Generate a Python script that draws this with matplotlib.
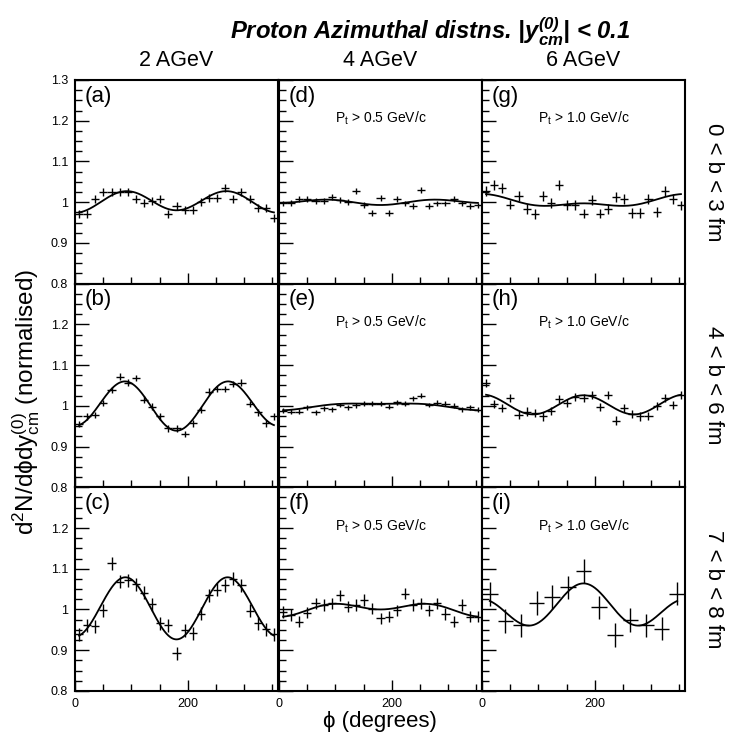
"""Proton azimuthal distributions at 2, 4 and 6 AGeV in three impact-parameter bins."""

import numpy as np
import matplotlib
matplotlib.use("Agg")
import matplotlib.pyplot as plt

plt.rcParams["font.family"] = ["Liberation Sans", "DejaVu Sans"]
plt.rcParams["mathtext.fontset"] = "custom"
plt.rcParams["mathtext.rm"] = "Liberation Sans"
plt.rcParams["mathtext.it"] = "Liberation Sans:italic"
plt.rcParams["mathtext.bf"] = "Liberation Sans:bold:italic"

energies = ["2 AGeV", "4 AGeV", "6 AGeV"]
centralities = ["0 < b < 3 fm", "4 < b < 6 fm", "7 < b < 8 fm"]
pt_cuts = ["", "P$_{\\mathrm{t}}$ > 0.5 GeV/c", "P$_{\\mathrm{t}}$ > 1.0 GeV/c"]

# measured points (normalised dN/dphi), 25 bins unless noted
vals_a = [0.971, 0.971, 1.007, 1.025, 1.025, 1.024, 1.025, 1.007, 0.998, 1.002,
          1.007, 0.970, 0.990, 0.980, 0.980, 1.000, 1.010, 1.010, 1.035, 1.007,
          1.025, 1.008, 0.986, 0.986, 0.962]
vals_b = [0.956, 0.974, 0.978, 1.007, 1.039, 1.072, 1.057, 1.068, 1.015, 0.998,
          0.974, 0.945, 0.945, 0.931, 0.957, 0.990, 1.035, 1.041, 1.041, 1.054,
          1.057, 1.005, 0.984, 0.957, 0.974]
vals_c = [0.939, 0.961, 0.959, 0.998, 1.113, 1.068, 1.072, 1.062, 1.041, 1.013,
          0.966, 0.961, 0.893, 0.949, 0.941, 0.989, 1.035, 1.049, 1.060, 1.076,
          1.060, 0.997, 0.966, 0.951, 0.939]
vals_d = [0.997, 0.998, 1.007, 1.008, 1.002, 1.002, 1.013, 1.005, 1.000, 1.027,
          0.993, 0.974, 1.011, 0.974, 1.008, 0.997, 0.990, 1.030, 0.990, 0.997,
          0.997, 1.008, 0.997, 0.990, 0.992]
vals_e = [0.988, 0.986, 0.986, 0.996, 0.984, 0.994, 0.992, 1.002, 0.997, 1.001,
          1.005, 1.005, 1.005, 0.998, 1.009, 1.005, 1.019, 1.025, 1.002, 1.008,
          1.005, 1.000, 0.992, 0.997, 0.990]
vals_f = [0.994, 0.986, 0.970, 0.992, 1.015, 1.011, 1.015, 1.035, 1.007, 1.011,
          1.023, 1.002, 0.978, 0.982, 0.998, 1.039, 1.011, 1.015, 0.998, 1.015,
          0.989, 0.970, 1.011, 0.982, 0.982]
vals_g = [1.027, 1.043, 1.035, 0.994, 1.015, 0.984, 0.970, 1.015, 0.998, 1.042,
          0.993, 0.993, 0.972, 1.005, 0.972, 0.984, 1.013, 1.008, 0.974, 0.974,
          1.008, 0.975, 1.027, 1.008, 0.992]
vals_h = [1.056, 1.005, 0.994, 1.019, 0.978, 0.986, 0.982, 0.974, 0.988, 1.016,
          1.008, 1.021, 1.019, 1.027, 0.998, 1.027, 0.964, 0.994, 0.980, 0.974,
          0.975, 1.000, 1.019, 1.002, 1.027]
# panel (i) has 13 bins
vals_i = [1.038, 0.972, 0.961, 1.016, 1.030, 1.054, 1.095, 1.005, 0.937, 0.974,
          0.961, 0.953, 1.039]

# statistical error (half height) per panel
errs = {"a": 0.010, "b": 0.008, "c": 0.016, "d": 0.007, "e": 0.006,
        "f": 0.014, "g": 0.012, "h": 0.010, "i": 0.029}

# Fourier fit a0 + a1 cos(phi) + a2 cos(2 phi)
fits = {"a": (1.002, -0.003, -0.025), "b": (1.0025, 0.006, -0.0575),
        "c": (1.0045, 0.0035, -0.0745), "d": (1.0008, 0.0025, -0.0053),
        "e": (1.000, -0.008, -0.003), "f": (1.002, -0.009, -0.011),
        "g": (1.0008, 0.0115, 0.0078), "h": (1.003, 0.001, 0.024),
        "i": (1.003, -0.0195, 0.0415)}

panel_vals = {"a": vals_a, "b": vals_b, "c": vals_c, "d": vals_d, "e": vals_e,
              "f": vals_f, "g": vals_g, "h": vals_h, "i": vals_i}
grid = [["a", "d", "g"], ["b", "e", "h"], ["c", "f", "i"]]

W, H = 739, 736
fig = plt.figure(figsize=(W / 100, H / 100), dpi=100)


def px_axes(left, top, w, h):
    return fig.add_axes([left / W, 1 - (top + h) / H, w / W, h / H])


lefts = [75, 279, 482]
tops = [80, 283.7, 487.3]
pw, ph = 203, 203.6

for r in range(3):
    for c in range(3):
        key = grid[r][c]
        ax = px_axes(lefts[c], tops[r], pw, ph)
        y = np.array(panel_vals[key])
        n = len(y)
        width = 360.0 / n
        x = (np.arange(n) + 0.5) * width
        ax.errorbar(x, y, xerr=width / 2, yerr=errs[key], fmt="none",
                    ecolor="black", elinewidth=1.0, capsize=0)
        a0, a1, a2 = fits[key]
        xf = np.linspace(x[0], x[-1], 300)
        rad = np.radians(xf)
        ax.plot(xf, a0 + a1 * np.cos(rad) + a2 * np.cos(2 * rad),
                color="black", lw=1.3)

        ax.set_xlim(0, 360)
        ax.set_ylim(0.8, 1.3)
        ax.set_xticks([0, 200])
        ax.set_xticks(np.arange(0, 360, 50), minor=True)
        ax.set_yticks([0.8, 0.9, 1.0, 1.1, 1.2, 1.3])
        ax.set_yticks(np.arange(0.8, 1.3, 0.025), minor=True)
        ax.tick_params(which="both", direction="in", top=False, right=False,
                       labelsize=9, width=1.0, pad=5)
        ax.tick_params(axis="y", which="major", length=10)
        ax.tick_params(axis="y", which="minor", length=5)
        ax.tick_params(axis="x", which="major", length=8)
        ax.tick_params(axis="x", which="minor", length=5)
        for s in ax.spines.values():
            s.set_linewidth(1.5)

        if c == 0:
            labs = ["0.8", "0.9", "1", "1.1", "1.2", "1.3" if r == 0 else ""]
            ax.set_yticklabels(labs)
        else:
            ax.set_yticklabels([])
        if r == 2:
            ax.set_xticklabels(["0", "200"])
        else:
            ax.set_xticklabels([])

        ax.text(0.045, 0.92, "(%s)" % key, transform=ax.transAxes,
                fontsize=16, ha="left", va="center")
        if pt_cuts[c]:
            ax.text(0.5, 0.81, pt_cuts[c], transform=ax.transAxes,
                    fontsize=10, ha="center", va="center")

fig.text(230 / W, 1 - 40 / H,
         "Proton Azimuthal distns. |$\\mathbf{y}_{\\mathbf{cm}}^{\\mathbf{(0)}}$| < 0.1",
         fontsize=17.2, fontweight="bold", fontstyle="italic",
         ha="left", va="baseline")

for c, lab in enumerate(energies):
    fig.text((lefts[c] + pw / 2) / W, 1 - 60 / H, lab, fontsize=15.5,
             ha="center", va="center")

for r, lab in enumerate(centralities):
    fig.text(714 / W, 1 - (tops[r] + ph / 2) / H, lab, fontsize=16,
             rotation=-90, ha="center", va="center")

fig.text(26 / W, 1 - 402 / H,
         "d$^{2}$N/d\u03d5dy$_{\\mathrm{cm}}^{(0)}$ (normalised)",
         fontsize=17.5, rotation=90, ha="center", va="center")
fig.text(380 / W, 1 - 722 / H, "\u03d5 (degrees)", fontsize=16,
         ha="center", va="center")

fig.savefig("out.png", dpi=100)
